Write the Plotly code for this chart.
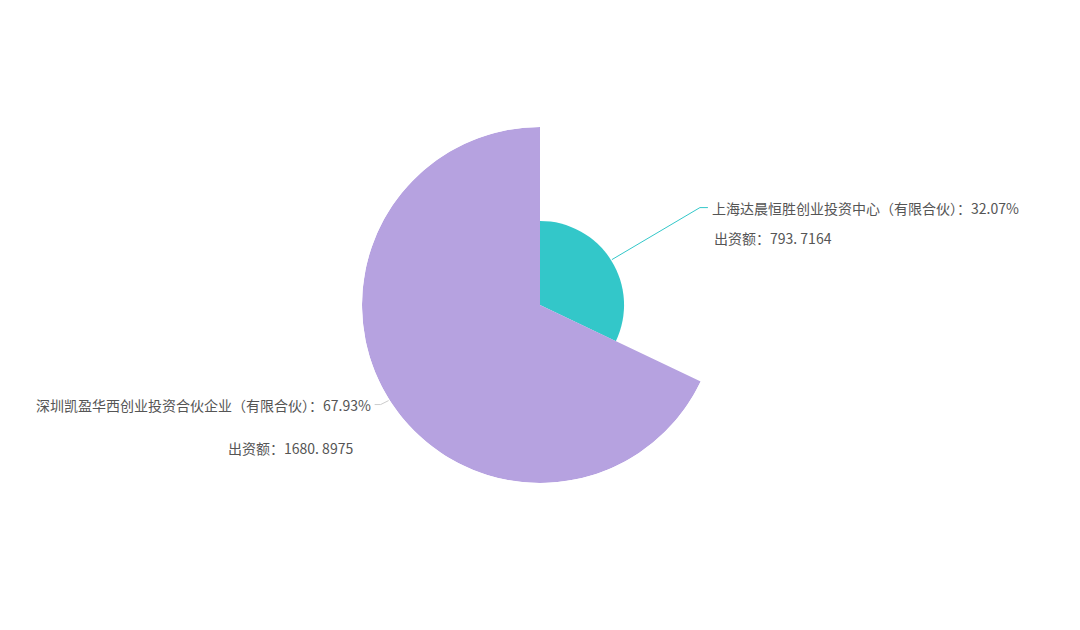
import math
import plotly.graph_objects as go

names = ["上海达晨恒胜创业投资中心（有限合伙）", "深圳凯盈华西创业投资合伙企业（有限合伙）"]
amounts = [793.7164, 1680.8975]
amount_text = ["793. 7164", "1680. 8975"]
colors = ["#33c7c9", "#b6a2e0"]

W, H = 1080, 630
# page body has an 8px margin, so shift everything back by it
cx, cy, R = 532, 297, 178

total = sum(amounts)
shares = [a / total for a in amounts]
widths = [s * 360 for s in shares]
centers = []
start = 0
for w in widths:
    centers.append(start + w / 2)
    start += w

fig = go.Figure(go.Barpolar(
    r=amounts, theta=centers, width=widths,
    marker=dict(color=colors, line=dict(width=0)),
    hoverinfo="skip",
))

fig.update_layout(
    width=W, height=H,
    margin=dict(l=0, r=0, t=0, b=0),
    paper_bgcolor="white",
    showlegend=False,
    polar=dict(
        domain=dict(x=[(cx - R) / W, (cx + R) / W], y=[(H - cy - R) / H, (H - cy + R) / H]),
        bgcolor="white",
        angularaxis=dict(visible=False, rotation=90, direction="clockwise"),
        radialaxis=dict(visible=False, range=[0, max(amounts)]),
        bargap=0,
    ),
    font=dict(family="Noto Sans CJK SC", size=14, color="#555555"),
)


def px(x, y):
    return x / W, 1 - y / H


shapes = []
annotations = []
for i in range(len(amounts)):
    rr = R * amounts[i] / max(amounts)
    a = math.radians(centers[i])
    sx = cx + (rr + 1) * math.sin(a)
    sy = cy - (rr + 1) * math.cos(a)
    right = math.sin(a) > 0
    if right:
        ex, ey = sx + 88, sy - 52
        hx = ex + 8
    else:
        ex, ey = sx - 8, sy + 4
        hx = ex - 6
    x0, y0 = px(sx, sy)
    x1, y1 = px(ex, ey)
    x2, y2 = px(hx, ey)
    lc = colors[i] if right else "#cccccc"
    shapes.append(dict(type="path", xref="paper", yref="paper",
                       path=f"M {x0} {y0} L {x1} {y1} L {x2} {y2}",
                       line=dict(color=lc, width=1)))
    label = f"{names[i]}：{shares[i] * 100:.2f}%"
    if right:
        annotations.append(dict(x=x2, y=y2, xref="paper", yref="paper", text=label,
                                showarrow=False, xanchor="left", yanchor="middle", xshift=2))
        annotations.append(dict(x=x2, y=y2, xref="paper", yref="paper", text="出资额：" + amount_text[i],
                                showarrow=False, xanchor="left", yanchor="middle", xshift=4, yshift=-30))
    else:
        annotations.append(dict(x=x2, y=y2, xref="paper", yref="paper", text=label,
                                showarrow=False, xanchor="right", yanchor="middle", xshift=-2))
        annotations.append(dict(x=x2, y=y2, xref="paper", yref="paper", text="出资额：" + amount_text[i],
                                showarrow=False, xanchor="right", yanchor="middle", xshift=-20, yshift=-43))

fig.update_layout(shapes=shapes, annotations=annotations)
fig.write_html("out.html")
